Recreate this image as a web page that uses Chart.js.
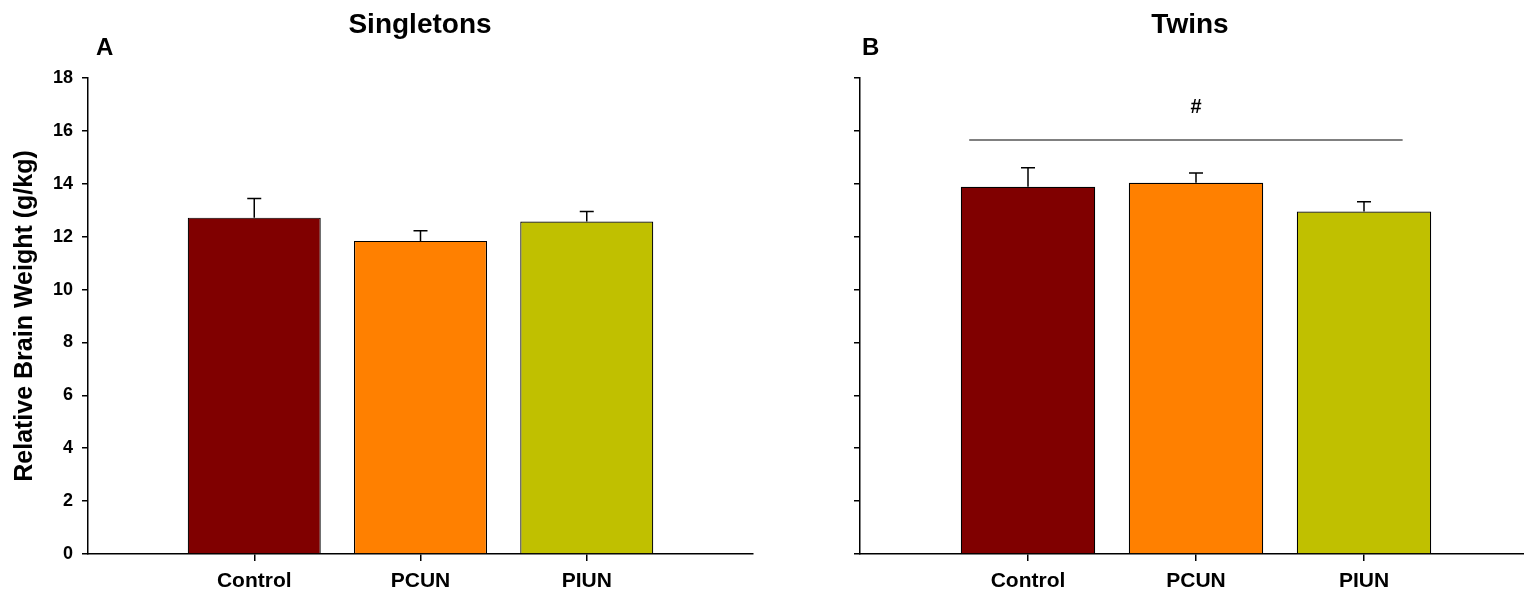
<!DOCTYPE html>
<html>
<head>
<meta charset="utf-8">
<script src="https://cdn.jsdelivr.net/npm/chart.js@4/dist/chart.umd.min.js"></script>
<style>
  body { margin: 0; background: #fff; overflow: hidden; width: 1524px; height: 599px; position: relative; }
  canvas { position: absolute; top: 0; }
  #left { left: 0; }
  #right { left: 760px; }
</style>
</head>
<body>
<canvas id="left" width="760" height="599"></canvas>
<canvas id="right" width="800" height="599"></canvas>
<script>
// group names and bar colours
const groups = ['Control', 'PCUN', 'PIUN'];
const groupPos = [1, 2, 3];
const barColors = ['#800000', '#FF8000', '#C0C000'];

// relative brain weight (g/kg), mean and SEM
const singletonMeans = [12.72, 11.84, 12.57];
const singletonErrs = [0.72, 0.38, 0.38];
const twinMeans = [13.89, 14.04, 12.95];
const twinErrs = [0.72, 0.37, 0.37];

// significance bar over the twins panel
const sigSpan = [0.65, 3.23];
const sigLevel = 15.66;
const sigMark = '#';

const yTicks = [0, 2, 4, 6, 8, 10, 12, 14, 16, 18];

const FONT = '"Liberation Sans", Arial, sans-serif';

// error bars drawn on top of each bar
const errorBars = {
    id: 'errorBars',
    afterDatasetsDraw(chart, args, opts) {
        const ctx = chart.ctx;
        const y = chart.scales.y;
        const meta = chart.getDatasetMeta(0);
        const ds = chart.data.datasets[0];
        ctx.save();
        ctx.strokeStyle = '#000';
        ctx.lineWidth = 1.5;
        meta.data.forEach((bar, i) => {
            const top = y.getPixelForValue(ds.data[i].y + opts.errs[i]);
            ctx.beginPath();
            ctx.moveTo(bar.x, bar.y);
            ctx.lineTo(bar.x, top);
            ctx.moveTo(bar.x - 7, top);
            ctx.lineTo(bar.x + 7, top);
            ctx.stroke();
        });
        ctx.restore();
    }
};

// panel title, panel letter and optional significance line
const panelText = {
    id: 'panelText',
    afterDraw(chart, args, opts) {
        const ctx = chart.ctx;
        const xs = chart.scales.x;
        const ys = chart.scales.y;
        ctx.save();
        ctx.fillStyle = '#000';
        ctx.textBaseline = 'alphabetic';
        ctx.font = 'bold 28px ' + FONT;
        ctx.textAlign = 'center';
        ctx.fillText(opts.title, opts.titleX, 33);
        ctx.font = 'bold 24px ' + FONT;
        ctx.textAlign = 'left';
        ctx.fillText(opts.letter, opts.letterX, 55);
        if (opts.sig) {
            const ly = ys.getPixelForValue(sigLevel);
            ctx.strokeStyle = '#808080';
            ctx.lineWidth = 2;
            ctx.beginPath();
            ctx.moveTo(xs.getPixelForValue(sigSpan[0]), ly);
            ctx.lineTo(xs.getPixelForValue(sigSpan[1]), ly);
            ctx.stroke();
            ctx.font = 'bold 20px ' + FONT;
            ctx.textAlign = 'center';
            ctx.fillText(sigMark, xs.getPixelForValue(2), ly - 27);
        }
        ctx.restore();
    }
};

function makePanel(id, means, errs, cfg) {
    const data = groupPos.map((p, i) => ({ x: p, y: means[i] }));
    return new Chart(document.getElementById(id), {
        type: 'bar',
        data: {
            datasets: [{
                data: data,
                backgroundColor: barColors,
                borderColor: '#000',
                borderWidth: 1.2,
                borderSkipped: 'bottom',
                barPercentage: 0.8,
                categoryPercentage: 1.0
            }]
        },
        options: {
            responsive: false,
            animation: false,
            layout: { padding: { top: 78, right: cfg.padRight, left: 0, bottom: 0 } },
            plugins: {
                legend: { display: false },
                tooltip: { enabled: false },
                errorBars: { errs: errs },
                panelText: cfg.text
            },
            scales: {
                x: {
                    type: 'linear',
                    min: 0,
                    max: 4,
                    offset: false,
                    afterBuildTicks: s => { s.ticks = groupPos.map(v => ({ value: v })); },
                    afterFit: s => { s.height = 45; },
                    ticks: {
                        callback: v => groups[groupPos.indexOf(v)] || '',
                        color: '#000',
                        font: { family: FONT, size: 21, weight: 'bold' },
                        padding: 8,
                        maxRotation: 0
                    },
                    grid: { offset: false, drawOnChartArea: false, tickLength: 7, color: '#000', lineWidth: 1.5 },
                    border: { color: '#000', width: 1.5 }
                },
                y: {
                    min: 0,
                    max: 18,
                    afterBuildTicks: s => { s.ticks = yTicks.map(v => ({ value: v })); },
                    afterFit: s => { s.width = cfg.yWidth; },
                    ticks: {
                        display: cfg.yLabels,
                        color: '#000',
                        font: { family: FONT, size: 18, weight: 'bold' },
                        padding: 9
                    },
                    title: {
                        display: cfg.yLabels,
                        text: 'Relative Brain Weight (g/kg)',
                        color: '#000',
                        font: { family: FONT, size: 25, weight: 'bold' },
                        padding: { top: 10, bottom: 0 }
                    },
                    grid: { drawOnChartArea: false, tickLength: 6, color: '#000', lineWidth: 1.5 },
                    border: { color: '#000', width: 1.5 }
                }
            }
        },
        plugins: [errorBars, panelText]
    });
}

makePanel('left', singletonMeans, singletonErrs, {
    yWidth: 88, padRight: 7, yLabels: true,
    text: { title: 'Singletons', titleX: 420, letter: 'A', letterX: 96, sig: false }
});
makePanel('right', twinMeans, twinErrs, {
    yWidth: 100, padRight: 28, yLabels: false,
    text: { title: 'Twins', titleX: 430, letter: 'B', letterX: 102, sig: true }
});
</script>
</body>
</html>
